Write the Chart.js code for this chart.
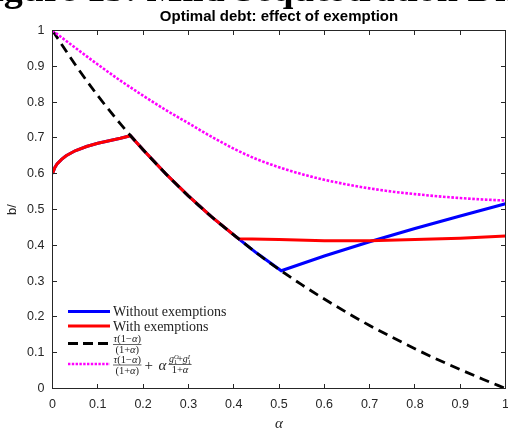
<!DOCTYPE html>
<html>
<head>
<meta charset="utf-8">
<script src="https://cdn.jsdelivr.net/npm/chart.js@4.4.1/dist/chart.umd.min.js"></script>
<style>
  html, body { margin: 0; padding: 0; background: #fff; overflow: hidden; }
  #wrap { position: relative; width: 508px; height: 429px; overflow: hidden; background: #fff; }
  #chart { position: absolute; left: 0; top: 0; }
  #caption {
    position: absolute; left: -30px; top: -31px;
    font: bold 38px/38px "Liberation Serif", serif;
    white-space: nowrap; color: #000;
  }
</style>
</head>
<body>
<div id="wrap">
  <canvas id="chart" width="508" height="429"></canvas>
  <div id="caption">Figure 13: Mild Sequestration Distortions</div>
</div>
<script>
// Optimal debt vs alpha
const xTicks = [0, 0.1, 0.2, 0.3, 0.4, 0.5, 0.6, 0.7, 0.8, 0.9, 1];
const xTickLabels = ["0", "0.1", "0.2", "0.3", "0.4", "0.5", "0.6", "0.7", "0.8", "0.9", "1"];
const yTicks = [0, 0.1, 0.2, 0.3, 0.4, 0.5, 0.6, 0.7, 0.8, 0.9, 1];
const yTickLabels = ["0", "0.1", "0.2", "0.3", "0.4", "0.5", "0.6", "0.7", "0.8", "0.9", "1"];

const seriesNames = ["Without exemptions", "With exemptions"];

// dashed + dotted bounds, sampled every 0.05
const alphaFine = [0, 0.05, 0.1, 0.15, 0.2, 0.25, 0.3, 0.35, 0.4, 0.45, 0.5,
                   0.55, 0.6, 0.65, 0.7, 0.75, 0.8, 0.85, 0.9, 0.95, 1];
const boundDebt = [1, 0.905, 0.818, 0.739, 0.667, 0.6, 0.538, 0.481, 0.429, 0.379, 0.333,
                   0.29, 0.25, 0.212, 0.176, 0.143, 0.111, 0.081, 0.053, 0.026, 0];
const boundGov = [1, 0.952, 0.905, 0.86, 0.818, 0.778, 0.741, 0.704, 0.67, 0.641, 0.618,
                  0.599, 0.583, 0.57, 0.559, 0.55, 0.543, 0.537, 0.532, 0.528, 0.525];

// without exemptions (blue)
const alphaNoEx = [0, 0.005, 0.01, 0.02, 0.03, 0.05, 0.075, 0.1, 0.125, 0.15, 0.172,
                   0.2, 0.25, 0.3, 0.35, 0.4, 0.45, 0.505, 0.6, 0.7, 0.8, 0.9, 1];
const debtNoEx = [0.6, 0.617, 0.627, 0.64, 0.65, 0.664, 0.676, 0.685, 0.692, 0.699, 0.706,
                  0.667, 0.6, 0.538, 0.481, 0.429, 0.379, 0.329, 0.37, 0.41, 0.447, 0.482, 0.516];

// with exemptions (red)
const alphaEx = [0, 0.005, 0.01, 0.02, 0.03, 0.05, 0.075, 0.1, 0.125, 0.15, 0.172,
                 0.2, 0.25, 0.3, 0.35, 0.4, 0.411, 0.5, 0.6, 0.7, 0.8, 0.9, 1];
const debtEx = [0.6, 0.617, 0.627, 0.64, 0.65, 0.664, 0.676, 0.685, 0.692, 0.699, 0.706,
                0.667, 0.6, 0.538, 0.481, 0.429, 0.418, 0.416, 0.413, 0.413, 0.416, 0.42, 0.426];

const axisColor = "#262626";
const tickFont = { family: "Liberation Sans", size: 12.5 };
const pts = (xs, ys) => xs.map((x, i) => ({ x, y: ys[i] }));

// MATLAB-ish box with inward ticks on all sides
const frame = {
  id: "frame",
  afterDraw(chart) {
    const { ctx, chartArea: a, scales } = chart;
    const len = 4.5;
    ctx.save();
    ctx.strokeStyle = axisColor;
    ctx.lineWidth = 1;
    ctx.strokeRect(a.left, a.top, a.right - a.left, a.bottom - a.top);
    ctx.beginPath();
    xTicks.forEach((v) => {
      const px = Math.round(scales.x.getPixelForValue(v) - 0.5) + 0.5;
      ctx.moveTo(px, a.bottom); ctx.lineTo(px, a.bottom - len);
      ctx.moveTo(px, a.top); ctx.lineTo(px, a.top + len);
    });
    yTicks.forEach((v) => {
      const py = Math.round(scales.y.getPixelForValue(v) - 0.5) + 0.5;
      ctx.moveTo(a.left, py); ctx.lineTo(a.left + len, py);
      ctx.moveTo(a.right, py); ctx.lineTo(a.right - len, py);
    });
    ctx.stroke();
    ctx.restore();
  },
};

// draw a row of text pieces, each {t, size, dy, italic}
function pieceWidth(ctx, parts) {
  let w = 0;
  parts.forEach((p) => {
    ctx.font = `${p.italic ? "italic " : ""}${p.size}px "Liberation Serif"`;
    w += ctx.measureText(p.t).width;
  });
  return w;
}
function drawPieces(ctx, parts, x, y) {
  parts.forEach((p) => {
    ctx.font = `${p.italic ? "italic " : ""}${p.size}px "Liberation Serif"`;
    ctx.fillText(p.t, x, y + (p.dy || 0));
    if (!p.stack) x += ctx.measureText(p.t).width;
  });
  return x;
}
function fraction(ctx, num, den, x, barY) {
  const wn = pieceWidth(ctx, num.filter((p) => !p.stack));
  const wd = pieceWidth(ctx, den);
  const w = Math.max(wn, wd) + 1;
  drawPieces(ctx, num, x + (w - wn) / 2, barY - 2.5);
  drawPieces(ctx, den, x + (w - wd) / 2, barY + 8.5);
  ctx.fillRect(x, barY - 0.35, w, 0.7);
  return x + w;
}

const legendBox = {
  id: "legendBox",
  afterDraw(chart) {
    const ctx = chart.ctx;
    const x0 = 68, x1 = 110, tx = 113;
    const seg = (y, color, w, dash) => {
      ctx.save();
      ctx.strokeStyle = color;
      ctx.lineWidth = w;
      ctx.setLineDash(dash);
      ctx.beginPath();
      ctx.moveTo(x0, y); ctx.lineTo(x1, y);
      ctx.stroke();
      ctx.restore();
    };
    seg(311.5, "#0000ff", 3, []);
    seg(326, "#ff0000", 3, []);
    seg(343.5, "#000000", 2.8, [10, 5]);
    seg(364, "#ff00ff", 2.6, [2.4, 1.4]);

    ctx.save();
    ctx.fillStyle = "#222";
    ctx.textBaseline = "alphabetic";
    ctx.font = '14px "Liberation Serif"';
    ctx.fillText(seriesNames[0], tx, 315.5);
    ctx.fillText(seriesNames[1], tx, 330.5);

    const s = 10.5;
    const tauNum = [{ t: "τ", size: s, italic: true }, { t: "(1−", size: s }, { t: "α", size: s, italic: true }, { t: ")", size: s }];
    const tauDen = [{ t: "(1+", size: s }, { t: "α", size: s, italic: true }, { t: ")", size: s }];
    fraction(ctx, tauNum, tauDen, tx, 344.5);

    let x = fraction(ctx, tauNum, tauDen, tx, 365);
    ctx.font = '15px "Liberation Serif"';
    ctx.fillText("+", x + 3, 369.5);
    ctx.font = 'italic 15px "Liberation Serif"';
    ctx.fillText("α", x + 17, 369.5);
    x += 27;
    const gNum = [
      { t: "g", size: 10, italic: true },
      { t: "O", size: 6.5, italic: true, dy: -3.5, stack: true },
      { t: "1", size: 6.5, dy: 1.5 },
      { t: "+", size: 10 },
      { t: "g", size: 10, italic: true },
      { t: "I", size: 6.5, italic: true, dy: -3.5, stack: true },
      { t: "1", size: 6.5, dy: 1.5 },
    ];
    const gDen = [{ t: "1+", size: s }, { t: "α", size: s, italic: true }];
    fraction(ctx, gNum, gDen, x, 364.5);
    ctx.restore();
  },
};

new Chart(document.getElementById("chart"), {
  type: "line",
  data: {
    datasets: [
      { label: seriesNames[0], data: pts(alphaNoEx, debtNoEx), borderColor: "#0000ff", borderWidth: 3, order: 4 },
      { label: seriesNames[1], data: pts(alphaEx, debtEx), borderColor: "#ff0000", borderWidth: 3, order: 3 },
      { label: "tau bound", data: pts(alphaFine, boundDebt), borderColor: "#000000", borderWidth: 2.8,
        borderDash: [10, 6], cubicInterpolationMode: "monotone", order: 2 },
      { label: "tau bound + spending", data: pts(alphaFine, boundGov), borderColor: "#ff00ff", borderWidth: 2.6,
        borderDash: [2.6, 1.6], cubicInterpolationMode: "monotone", order: 1 },
    ],
  },
  options: {
    responsive: false,
    animation: false,
    elements: { point: { radius: 0 }, line: { tension: 0, fill: false } },
    layout: { padding: { left: 0, right: 2.5, top: 0, bottom: 0 } },
    plugins: {
      legend: { display: false },
      tooltip: { enabled: false },
      title: {
        display: true,
        fullSize: false,
        text: "Optimal debt: effect of exemption",
        color: "#000",
        font: { family: "Liberation Sans", size: 15, weight: "bold", lineHeight: 1.2 },
        padding: { top: 8, bottom: 4.5 },
      },
    },
    scales: {
      x: {
        type: "linear",
        min: 0,
        max: 1,
        grid: { display: false, drawTicks: false },
        border: { display: false },
        afterBuildTicks: (s) => { s.ticks = xTicks.map((v) => ({ value: v })); },
        afterFit: (s) => { s.height = 40.5; s.paddingLeft = 0; s.paddingRight = 0; },
        ticks: { padding: 9, color: axisColor, font: tickFont, maxRotation: 0, autoSkip: false,
                 callback: (v, i) => xTickLabels[i] },
        title: { display: true, text: "α", color: axisColor,
                 font: { family: "Liberation Serif", size: 15, style: "italic", lineHeight: 1 },
                 padding: { top: 0, bottom: -3 } },
      },
      y: {
        type: "linear",
        min: 0,
        max: 1,
        grid: { display: false, drawTicks: false },
        border: { display: false },
        afterBuildTicks: (s) => { s.ticks = yTicks.map((v) => ({ value: v })); },
        afterFit: (s) => { s.width = 52.5; s.paddingTop = 0; s.paddingBottom = 0; },
        ticks: { padding: 8, color: axisColor, font: tickFont, autoSkip: false,
                 callback: (v, i) => yTickLabels[i] },
        title: { display: true, text: "b/", color: axisColor,
                 font: { family: "Liberation Sans", size: 13, lineHeight: 1 },
                 padding: { top: 6, bottom: 0 } },
      },
    },
  },
  plugins: [frame, legendBox],
});
</script>
</body>
</html>
